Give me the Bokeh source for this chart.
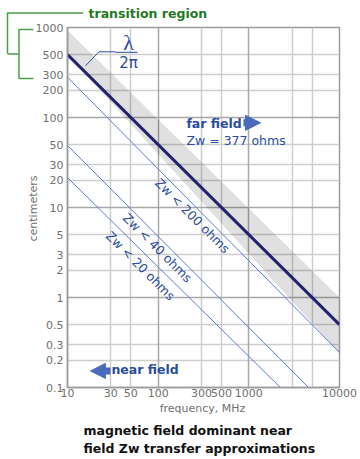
from bokeh.plotting import figure
from bokeh.models import (Range1d, FixedTicker, NumeralTickFormatter, Grid, Label,
                          Arrow, NormalHead)
from bokeh.embed import file_html
from bokeh.resources import INLINE

# ---------------- data ----------------
freq_ends = [10, 10000]                 # MHz
lambda_2pi_cm = [500, 0.5]              # lambda / 2pi boundary
band_freq = [10, 10000, 10000, 10]      # transition region (grey band)
band_cm = [930, 1.0, 0.24, 500]
zw200_freq = [10, 10000]
zw200_cm = [280, 0.245]
zw40_freq = [10, 4550]
zw40_cm = [49, 0.1]
zw20_freq = [10, 2230]
zw20_cm = [21.5, 0.1]

x_ticks = [10, 30, 50, 100, 300, 500, 1000, 10000]
x_grid_minor = [30, 50, 300, 500, 3000, 5000]
x_grid_major = [100, 1000]
y_ticks = [0.1, 0.2, 0.3, 0.5, 1, 2, 3, 5, 10, 20, 30, 50, 100, 200, 300, 500, 1000]
y_grid_minor = [0.2, 0.3, 0.5, 2, 3, 5, 20, 30, 50, 200, 300, 500]
y_grid_major = [1, 10, 100]

# ---------------- styles ----------------
FONT = "DejaVu Sans"
NAVY = "#22226e"
THIN = "#5a7dd0"
TXT_BLUE = "#2c4c9c"
ARROW_BLUE = "#4a6abd"
GREEN_TXT = "#237a23"
GREEN_LINE = "#4a9e4a"
GREY_TXT = "#707070"

p = figure(width=360, height=459, x_axis_type="log", y_axis_type="log",
           x_range=Range1d(10, 10000), y_range=Range1d(0.1, 1000),
           output_backend="svg", toolbar_location=None,
           min_border_left=67, min_border_right=21, min_border_top=27,
           min_border_bottom=72)
p.background_fill_color = "white"
p.border_fill_color = "white"
p.outline_line_color = "#9a9a9a"
p.outline_line_width = 1.5

for ax, ticks in ((p.xaxis, x_ticks), (p.yaxis, y_ticks)):
    ax.ticker = FixedTicker(ticks=ticks)
    ax.formatter = NumeralTickFormatter(format="0.[0]")
    ax.major_tick_line_color = None
    ax.minor_tick_line_color = None
    ax.major_tick_out = 0
    ax.major_tick_in = 0
    ax.minor_tick_out = 0
    ax.axis_line_color = "#9a9a9a"
    ax.axis_line_width = 1.5
    ax.major_label_text_font = FONT
    ax.major_label_text_font_size = "11px"
    ax.major_label_text_color = GREY_TXT
p.xaxis.major_label_standoff = 1
p.yaxis.major_label_standoff = 4

p.xgrid.ticker = FixedTicker(ticks=x_grid_minor)
p.ygrid.ticker = FixedTicker(ticks=y_grid_minor)
for g in (p.xgrid, p.ygrid):
    g.grid_line_color = "#cdcdcd"
    g.grid_line_width = 1.5
p.add_layout(Grid(dimension=0, ticker=FixedTicker(ticks=x_grid_major),
                  grid_line_color="#a8a8a8", grid_line_width=1.5))
p.add_layout(Grid(dimension=1, ticker=FixedTicker(ticks=y_grid_major),
                  grid_line_color="#a8a8a8", grid_line_width=1.5))

# transition band
p.patch(band_freq, band_cm, fill_color="black", fill_alpha=0.12, line_color=None)

# lines
p.line(zw200_freq, zw200_cm, line_color=THIN, line_width=1)
p.line(zw40_freq, zw40_cm, line_color=THIN, line_width=1)
p.line(zw20_freq, zw20_cm, line_color=THIN, line_width=1)
p.line(freq_ends, lambda_2pi_cm, line_color=NAVY, line_width=3)


def lab(x, y, text, size="12.5px", color=TXT_BLUE, style="normal", align="left",
        angle=0, units="data", font=FONT, place="center"):
    lb = Label(x=x, y=y, x_units=units, y_units=units, text=text,
               text_font=font, text_font_size=size, text_color=color,
               text_font_style=style, text_align=align,
               text_baseline="middle", angle=angle, angle_units="deg")
    if place == "center":
        p.add_layout(lb)
    else:
        p.add_layout(lb, place)


# rotated Zw labels
lab(239, 8.1, "Z\u1d21 < 200 ohms", align="center", angle=-45)
lab(98.4, 3.57, "Z\u1d21 < 40 ohms", align="center", angle=-45)
lab(63.8, 2.25, "Z\u1d21 < 20 ohms", align="center", angle=-45)

# far / near field
lab(205, 85, "far field", style="bold")
lab(205, 55, "Z\u1d21 = 377 ohms")
lab(30.5, 0.157, "near field", style="bold")
p.add_layout(Arrow(end=NormalHead(size=15, fill_color=ARROW_BLUE, line_color=ARROW_BLUE),
                   x_start=873, y_start=87.3, x_end=1346, y_end=87.3,
                   line_color=ARROW_BLUE, line_width=7))
p.add_layout(Arrow(end=NormalHead(size=15, fill_color=ARROW_BLUE, line_color=ARROW_BLUE),
                   x_start=29.8, y_start=0.153, x_end=17.9, y_end=0.153,
                   line_color=ARROW_BLUE, line_width=7))

# lambda / 2pi label with leader
lab(47.1, 676, "\u03bb", size="22px", align="center", font="Liberation Serif")
lab(47.1, 405, "2\u03c0", size="15px", align="center")


def seg(x0, y0, x1, y1, color=TXT_BLUE, width=1):
    p.add_layout(Arrow(end=None, x_start=x0, y_start=y0, x_end=x1, y_end=y1,
                       line_color=color, line_width=width))


seg(33.8, 530, 59.2, 530)
seg(15.8, 375, 22.2, 537)
seg(22.2, 537, 33.8, 537)


# thin straight strokes outside the frame (canvas pixels), drawn as filled label boxes
def stroke(x0, y0, length, vertical=False, t=1.5, color=GREEN_LINE):
    s0 = t / 1.164
    n = max(1, round(length / (0.3179 * s0)))
    s = length / (0.3179 * n)
    lb = Label(x=x0, y=y0, x_units="canvas", y_units="canvas", text="\u00a0" * n,
               text_font=FONT, text_font_size=f"{s:.3f}px", text_color=color,
               text_align="left", text_baseline="middle",
               angle=-90 if vertical else 0, angle_units="deg",
               background_fill_color=color)
    # thin side of each stroke is what counts towards the panel size
    p.add_layout(lb, "left" if vertical else "above")


# transition region bracket
lab(88, 12.5, "transition region", color=GREEN_TXT, style="bold", units="canvas",
    place="above")
stroke(7, 12.5, 77)
stroke(7, 12, 41.5, vertical=True)
stroke(7, 53.5, 11.5)
stroke(18.5, 29, 49.5, vertical=True)
stroke(18, 29, 15)
stroke(18, 78, 15)

# axis labels
lab(202, 408, "frequency, MHz", size="11px", color=GREY_TXT, align="center",
    units="canvas", place="below")
lab(33, 208, "centimeters", size="11px", color=GREY_TXT, align="center", angle=90,
    units="canvas", place="left")

# title
lab(83, 430, "magnetic field dominant near", color="#111111", style="bold",
    units="canvas", place="below")
lab(83, 448, "field Z\u1d21 transfer approximations", color="#111111", style="bold",
    units="canvas", place="below")

open("out.html", "w").write(file_html(p, INLINE))
